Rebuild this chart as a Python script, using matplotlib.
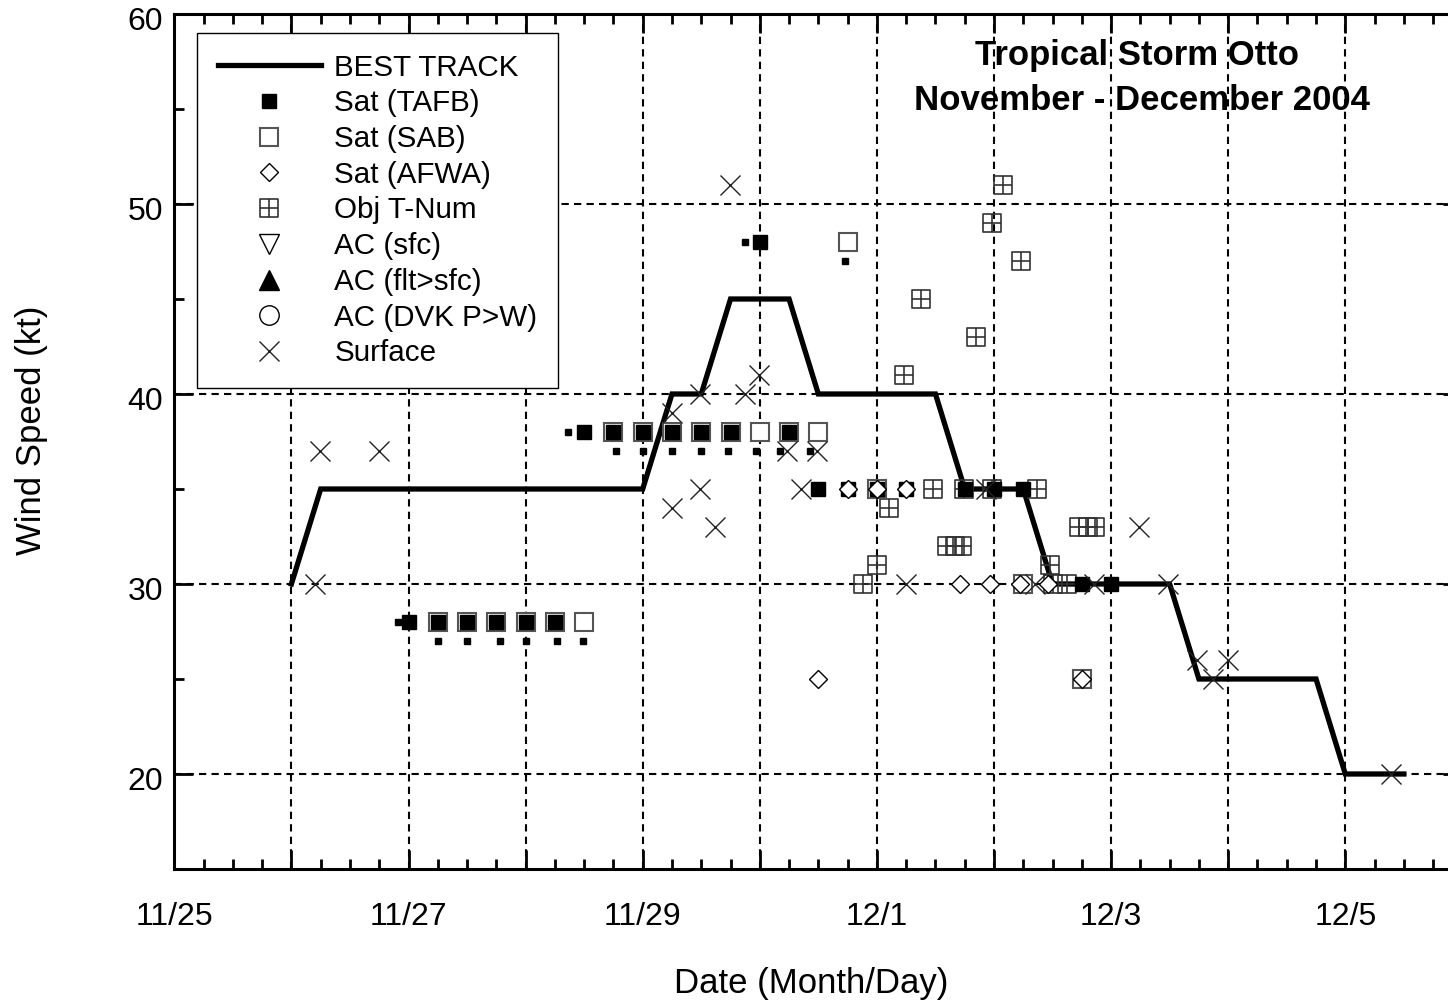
import matplotlib
matplotlib.use('Agg')
import matplotlib.pyplot as plt
import matplotlib.transforms as mtransforms
from matplotlib.path import Path
from matplotlib.lines import Line2D

plt.rcParams['font.family'] = ['Liberation Sans', 'DejaVu Sans']

# time axis: days after 00 UTC 25 November 2004
# ---------------- data ----------------
bt_t = [1.0, 1.25, 1.5, 1.75, 2.0, 2.25, 2.5, 2.75, 3.0, 3.25, 3.5, 3.75, 4.0,
        4.25, 4.5, 4.75, 5.0, 5.25, 5.5, 5.75, 6.0, 6.25, 6.5, 6.75, 7.0, 7.25,
        7.5, 7.75, 8.0, 8.25, 8.5, 8.75, 9.0, 9.25, 9.5, 9.75, 10.0, 10.25, 10.5]
bt_v = [30, 35, 35, 35, 35, 35, 35, 35, 35, 35, 35, 35, 35,
        40, 40, 45, 45, 45, 40, 40, 40, 40, 40, 35, 35, 35,
        30, 30, 30, 30, 30, 25, 25, 25, 25, 25, 20, 20, 20]

tafb_t = [2.0, 2.25, 2.5, 2.75, 3.0, 3.25, 3.5, 3.75, 4.0, 4.25, 4.5, 4.75,
          5.0, 5.25, 5.5, 5.75, 6.0, 6.25, 6.75, 7.0, 7.25, 7.75, 8.0]
tafb_v = [28, 28, 28, 28, 28, 28, 38, 38, 38, 38, 38, 38,
          48, 38, 35, 35, 35, 35, 35, 35, 35, 30, 30]

# small filled squares (no legend entry)
small_t = [1.91, 2.25, 2.5, 2.78, 3.0, 3.27, 3.49, 3.36, 3.77, 4.0, 4.25, 4.5,
           4.73, 4.97, 5.17, 5.43, 4.87, 5.73]
small_v = [28, 27, 27, 27, 27, 27, 27, 38, 37, 37, 37, 37,
           37, 37, 37, 37, 48, 47]

sab_t = [2.25, 2.5, 2.75, 3.0, 3.25, 3.5, 3.75, 4.0, 4.25, 4.5, 4.75, 5.0,
         5.25, 5.5, 5.75, 6.0, 7.25, 7.75]
sab_v = [28, 28, 28, 28, 28, 28, 38, 38, 38, 38, 38, 38,
         38, 38, 48, 35, 30, 25]

afwa_t = [5.5, 5.75, 6.0, 6.25, 6.71, 6.97, 7.22, 7.46, 7.75]
afwa_v = [25, 35, 35, 35, 30, 30, 30, 30, 25]

tnum_t = [5.88, 6.0, 6.1, 6.23, 6.38, 6.48, 6.60, 6.67, 6.73, 6.74, 6.85, 6.98,
          6.98, 7.08, 7.23, 7.37, 7.48, 7.5, 7.62, 7.73, 7.80, 7.86]
tnum_v = [30, 31, 34, 41, 45, 35, 32, 32, 32, 35, 43, 35,
          49, 51, 47, 35, 31, 30, 30, 33, 33, 33]

sfc_t = [1.2, 1.244, 1.748, 4.25, 4.25, 4.49, 4.49, 4.62, 4.745, 4.87, 4.99,
         5.23, 5.35, 5.49, 6.25, 6.93, 7.35, 7.85, 8.24, 8.49, 8.73, 8.87,
         9.0, 10.39]
sfc_v = [30, 37, 37, 39, 34, 40, 35, 33, 51, 40, 41,
         37, 35, 37, 30, 35, 30, 30, 33, 30, 26, 25,
         26, 20]

xtick_days = [0, 2, 4, 6, 8, 10]
xtick_labels = ['11/25', '11/27', '11/29', '12/1', '12/3', '12/5']
ytick_vals = [20, 30, 40, 50, 60]

# ---------------- figure ----------------
W, H = 1448, 1001
fig = plt.figure(figsize=(W / 100, H / 100), dpi=100)
x0, x1 = 174.3, 174.3 + 11 * 117.1
y0, y1 = 869, 14
ax = fig.add_axes([x0 / W, 1 - y0 / H, (x1 - x0) / W, (y0 - y1) / H])
ax.set_xlim(0, 11)
ax.set_ylim(15, 60)

# grid
for d in range(1, 11):
    ax.axvline(d, color='black', lw=1.5, ls=(0, (3.5, 2.5)), zorder=1)
for v in [20, 30, 40, 50]:
    ax.axhline(v, color='black', lw=1.5, ls=(0, (3.5, 2.5)), zorder=1)

# T-num marker: square with a cross
tn_verts = [(-1, -1), (1, -1), (1, 1), (-1, 1), (-1, -1),
            (0, -1), (0, 1), (-1, 0), (1, 0)]
tn_codes = [Path.MOVETO, Path.LINETO, Path.LINETO, Path.LINETO, Path.CLOSEPOLY,
            Path.MOVETO, Path.LINETO, Path.MOVETO, Path.LINETO]
tnum_marker = Path(tn_verts, tn_codes)

ax.plot(bt_t, bt_v, color='black', lw=3.8, zorder=3, solid_joinstyle='miter')
ax.plot(tnum_t, tnum_v, ls='none', marker=tnum_marker, ms=13.5, mfc='none',
        mec='#333333', mew=1.2, zorder=4)
ax.plot(sab_t, sab_v, ls='none', marker='s', ms=13, mfc='white',
        mec='#555555', mew=1.5, zorder=5)
ax.plot(tafb_t, tafb_v, ls='none', marker='s', ms=10, mfc='black',
        mec='black', zorder=6)
ax.plot(small_t, small_v, ls='none', marker='s', ms=5, mfc='black',
        mec='black', zorder=6)
ax.plot(afwa_t, afwa_v, ls='none', marker='D', ms=9, mfc='white',
        mec='black', mew=1.0, zorder=7)
ax.plot(sfc_t, sfc_v, ls='none', marker='x', ms=14, mec='#222222',
        mew=1.0, zorder=8)

# axes styling
for s in ax.spines.values():
    s.set_linewidth(2.2)
ax.set_xticks(list(range(0, 12)))
ax.set_xticklabels([xtick_labels[xtick_days.index(d)] if d in xtick_days else ''
                    for d in range(0, 12)])
ax.set_xticks([d / 4 for d in range(0, 45)], minor=True)
ax.set_yticks(ytick_vals)
ax.set_yticks([15, 25, 35, 45, 55], minor=True)
ax.tick_params(which='both', direction='in', top=True, right=True, width=2,
               labelsize=23)
ax.tick_params(which='major', length=14)
ax.tick_params(which='minor', length=7)
ax.tick_params(axis='x', which='major', pad=24)
ax.tick_params(axis='y', which='major', pad=8)
shift = mtransforms.ScaledTranslation(0, -4 / 100, fig.dpi_scale_trans)
for lab in ax.get_yticklabels():
    lab.set_transform(lab.get_transform() + shift)

ax.set_xlabel('Date (Month/Day)', fontsize=25)
ax.set_ylabel('Wind Speed (kt)', fontsize=25)
ax.xaxis.set_label_coords((811 - x0) / (x1 - x0), (y0 - 983) / (y0 - y1))
ax.xaxis.label.set_verticalalignment('center')
ax.yaxis.set_label_coords((32 - x0) / (x1 - x0), (y0 - 430) / (y0 - y1))
ax.yaxis.label.set_verticalalignment('center')

fig.text(1137 / W, 1 - 55 / H, 'Tropical Storm Otto', ha='center', va='center',
         fontsize=25, fontweight='bold')
fig.text(1142 / W, 1 - 100 / H, 'November - December 2004', ha='center',
         va='center', fontsize=25, fontweight='bold')

handles = [
    Line2D([], [], color='black', lw=3.8),
    Line2D([], [], ls='none', marker='s', ms=10, mfc='black', mec='black'),
    Line2D([], [], ls='none', marker='s', ms=13, mfc='white', mec='#555555', mew=1.5),
    Line2D([], [], ls='none', marker='D', ms=9, mfc='white', mec='black', mew=1.0),
    Line2D([], [], ls='none', marker=tnum_marker, ms=13.5, mfc='none', mec='#333333', mew=1.2),
    Line2D([], [], ls='none', marker='v', ms=14, mfc='white', mec='black', mew=1.0),
    Line2D([], [], ls='none', marker='^', ms=14, mfc='black', mec='black'),
    Line2D([], [], ls='none', marker='o', ms=14, mfc='white', mec='black', mew=1.0),
    Line2D([], [], ls='none', marker='x', ms=14, mec='#222222', mew=1.0),
]
labels = ['BEST TRACK', 'Sat (TAFB)', 'Sat (SAB)', 'Sat (AFWA)', 'Obj T-Num',
          'AC (sfc)', 'AC (flt>sfc)', 'AC (DVK P>W)', 'Surface']
leg = ax.legend(handles, labels, loc='upper left',
                bbox_to_anchor=(197 / W, 1 - 33 / H),
                bbox_transform=fig.transFigure, borderaxespad=0,
                fontsize=21.3, handlelength=3.5, handletextpad=0.44,
                labelspacing=0.26, borderpad=0.7, fancybox=False,
                framealpha=1, edgecolor='black')
leg.get_frame().set_linewidth(1.0)
leg.set_zorder(10)

fig.savefig('out.png', dpi=100)
